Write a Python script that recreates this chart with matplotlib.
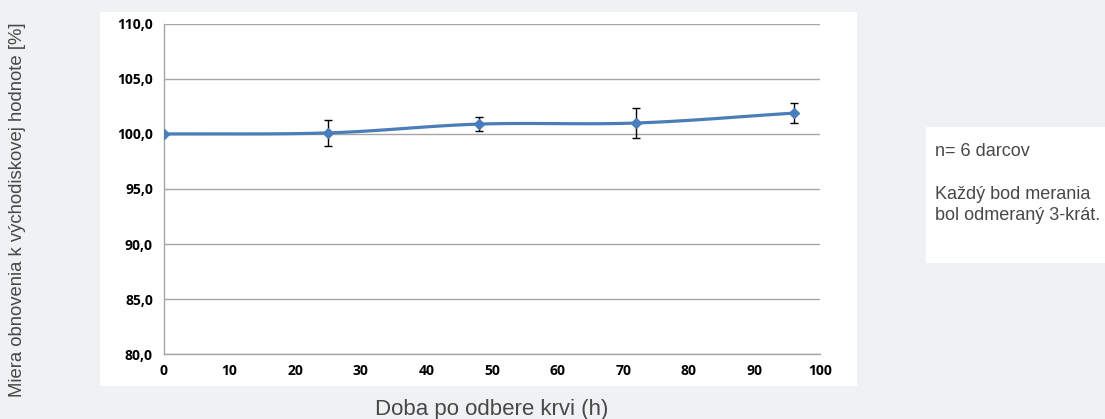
import matplotlib.pyplot as plt
import matplotlib.patches as patches
import numpy as np

# data
hodiny = [0, 25, 48, 72, 96]
obnova = [100.0, 100.1, 100.9, 101.0, 101.9]
chyba = [0.0, 1.2, 0.6, 1.4, 0.9]
y_ticks = [80, 85, 90, 95, 100, 105, 110]
x_ticks = [0, 10, 20, 30, 40, 50, 60, 70, 80, 90, 100]

modra = '#4a7ebb'
pozadie = '#f0f1f3'


def catmull_rom(x, y, n=30):
    # vyhladena ciara ako v Exceli
    x = np.asarray(x, float)
    y = np.asarray(y, float)
    px = np.concatenate([[2 * x[0] - x[1]], x, [2 * x[-1] - x[-2]]])
    py = np.concatenate([[2 * y[0] - y[1]], y, [2 * y[-1] - y[-2]]])
    xs, ys = [], []
    for i in range(1, len(px) - 2):
        t = np.linspace(0, 1, n)
        for p, out in ((px, xs), (py, ys)):
            p0, p1, p2, p3 = p[i - 1], p[i], p[i + 1], p[i + 2]
            out.extend(0.5 * (2 * p1 + (-p0 + p2) * t
                              + (2 * p0 - 5 * p1 + 4 * p2 - p3) * t ** 2
                              + (-p0 + 3 * p1 - 3 * p2 + p3) * t ** 3))
    return np.array(xs), np.array(ys)


fig = plt.figure(figsize=(11.05, 4.19), dpi=100, facecolor=pozadie)

# biely panel grafu
fig.patches.append(patches.Rectangle((100 / 1105, 1 - 386 / 419), 757 / 1105, 374 / 419,
                                     transform=fig.transFigure, facecolor='white',
                                     edgecolor='none', zorder=-5))
# biely box s poznamkou
fig.patches.append(patches.Rectangle((926 / 1105, 1 - 263 / 419), 179 / 1105, 136 / 419,
                                     transform=fig.transFigure, facecolor='white',
                                     edgecolor='none', zorder=-5))

ax = fig.add_axes([164 / 1105, 65 / 419, 656 / 1105, 330 / 419])
ax.set_facecolor('white')

sx, sy = catmull_rom(hodiny, obnova)
ax.plot(sx, sy, color=modra, lw=2.3, zorder=3, solid_capstyle='round')
ax.errorbar(hodiny[1:], obnova[1:], yerr=chyba[1:], fmt='none', ecolor='black',
            elinewidth=1, capsize=3, capthick=1, zorder=4)
ax.plot(hodiny, obnova, linestyle='none', marker='D', markersize=5.5,
        color=modra, zorder=5)

ax.set_xlim(0, 100)
ax.set_ylim(80, 110)
ax.set_yticks(y_ticks)
ax.set_xticks(x_ticks)
ax.set_yticklabels([f'{v:.1f}'.replace('.', ',') for v in y_ticks])
ax.set_xticklabels([str(v) for v in x_ticks])
ax.tick_params(length=0, labelsize=10)
for lab in ax.get_xticklabels() + ax.get_yticklabels():
    lab.set_fontweight('bold')
    lab.set_family('Open Sans')
ax.tick_params(axis='y', pad=8)
ax.tick_params(axis='x', pad=7)

ax.yaxis.grid(True, color='#a6a6a6', lw=1)
ax.set_axisbelow(True)
for s in ['top', 'right']:
    ax.spines[s].set_visible(False)
for s in ['left', 'bottom']:
    ax.spines[s].set_color('#a6a6a6')
    ax.spines[s].set_linewidth(1)

fig.text(18 / 1105, 1 - 210 / 419, 'Miera obnovenia k východiskovej hodnote [%]',
         rotation=90, ha='center', va='center', fontsize=13.3, color='#484848',
         family='Liberation Sans')
fig.text(492 / 1105, 1 - 409 / 419, 'Doba po odbere krvi (h)',
         ha='center', va='center', fontsize=16, color='#484848', family='Liberation Sans')

fig.text(935 / 1105, 1 - 151 / 419, 'n= 6 darcov', ha='left', va='center',
         fontsize=13, color='#484848', family='Liberation Sans')
fig.text(935 / 1105, 1 - 205 / 419, 'Každý bod merania\nbol odmeraný 3-krát.',
         ha='left', va='center', fontsize=13, color='#484848',
         family='Liberation Sans', linespacing=1.3)

fig.savefig('out.png', dpi=100, facecolor=pozadie)
